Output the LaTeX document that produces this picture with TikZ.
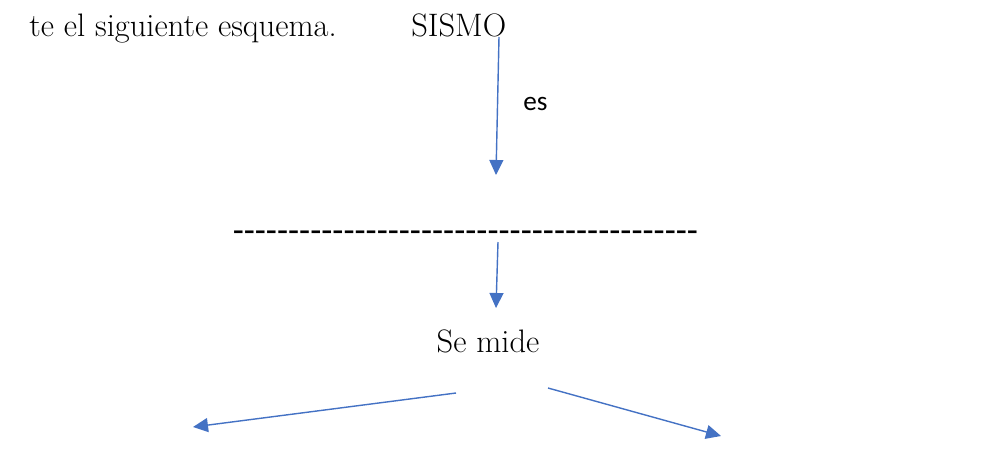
\documentclass[tikz,border=0pt]{standalone}
\usepackage{fontspec}
\newfontfamily\calibri{Carlito}
\usetikzlibrary{arrows.meta,positioning}
\definecolor{OfficeBlue}{RGB}{68,114,196}
\tikzset{
  serif/.style={inner sep=0pt,font=\fontsize{18.5}{22}\selectfont},
  sans/.style={inner sep=0pt,font=\calibri\fontsize{20.6}{24}\selectfont},
  small sans/.style={sans,font=\calibri\fontsize{15.5}{18}\selectfont},
  arr/.style={-{Triangle[length=0.3cm,width=0.28cm]},OfficeBlue,line width=0.8pt},
}
\begin{document}
\begin{tikzpicture}
    \useasboundingbox (0,0) rectangle (20,-9.08);

    % texts
    \node[serif, anchor=base east] (intro) at (6.74,-0.73) {te el siguiente esquema.};
    \node[serif, anchor=base west] (sismo) at (8.22,-0.73) {SISMO};
    \node[small sans, anchor=base west] (es) at (10.46,-2.2) {es};
    \node[sans, anchor=base] (blank) at (9.31,-4.84)
      {------------------------------------------};
    \node[serif, anchor=base] (semide) at (9.76,-7.04) {Se mide};

    % arrow ends
    \coordinate (s1) at (9.98,-0.74);
    \coordinate (e1) at (9.92,-3.5);
    \coordinate (s2) at (9.96,-4.84);
    \coordinate (e2) at (9.92,-6.16);
    \coordinate (s3) at (9.12,-7.86);
    \coordinate (e3) at (3.86,-8.54);
    \coordinate (s4) at (10.96,-7.76);
    \coordinate (e4) at (14.42,-8.72);

    \draw[arr] (s1) -- (e1);
    \draw[arr] (s2) -- (e2);
    \draw[arr] (s3) -- (e3);
    \draw[arr] (s4) -- (e4);
\end{tikzpicture}
\end{document}
